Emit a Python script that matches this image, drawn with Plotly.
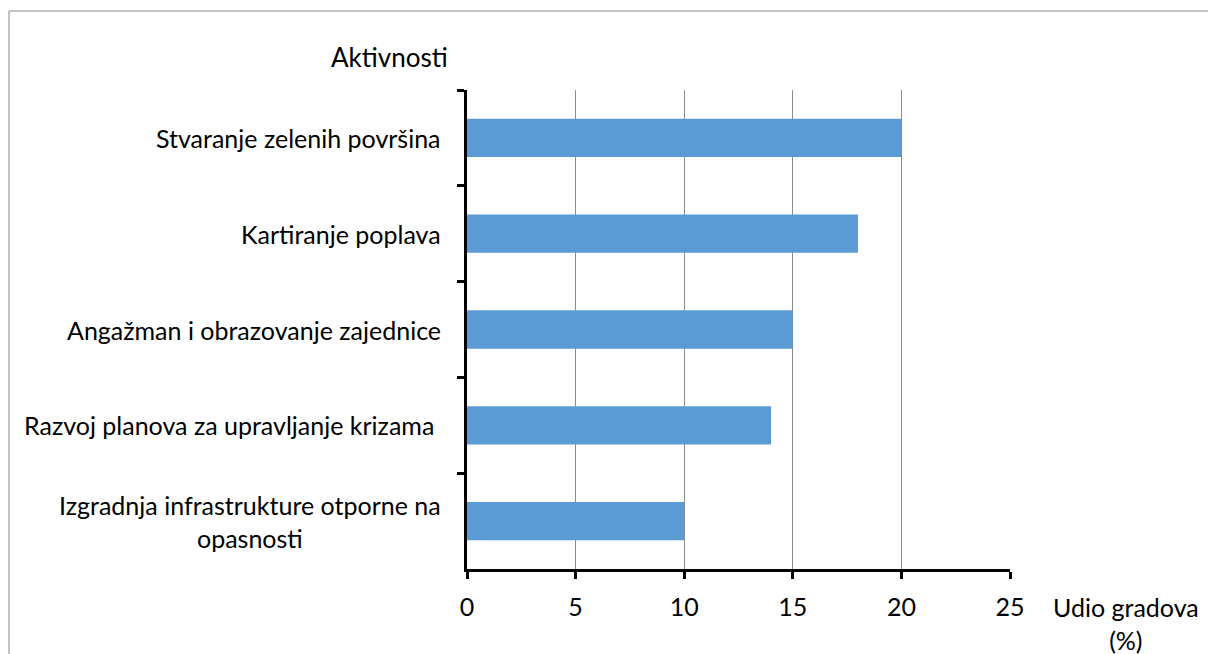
import plotly.graph_objects as go

categories = [
    "Stvaranje zelenih površina",
    "Kartiranje poplava",
    "Angažman i obrazovanje zajednice",
    "Razvoj planova za upravljanje krizama ",
    "Izgradnja infrastrukture otporne na<br>opasnosti",
]
values = [20, 18, 15, 14, 10]
x_ticks = [0, 5, 10, 15, 20, 25]

FONT = "Lato"
FS = 25
W, H = 1208, 654
L, T = 467, 90
pw, ph = 543, 479
R, B = W - L - pw, H - T - ph
PAD = 16  # initial size leaves room for the default body margin (no scrollbars)

fig = go.Figure(go.Bar(
    x=values, y=categories, orientation="h",
    marker=dict(color="#5b9bd5", line=dict(width=0)),
    hoverinfo="x+y",
))

fig.update_layout(
    width=W - PAD, height=H - PAD,
    margin=dict(l=L, r=R - PAD, t=T, b=B - PAD, autoexpand=False),
    paper_bgcolor="white", plot_bgcolor="white",
    bargap=0.6, showlegend=False,
    font=dict(family=FONT, size=FS, color="#000000"),
)
fig.update_xaxes(
    range=[0, 25], tickvals=x_ticks, ticktext=[str(v) for v in x_ticks],
    showgrid=True, gridcolor="#8c8c8c", gridwidth=1,
    showline=True, linecolor="black", linewidth=3,
    ticks="outside", ticklen=7, tickwidth=3, tickcolor="black",
    ticklabelstandoff=7, zeroline=False,
    tickfont=dict(family=FONT, size=FS, color="black"),
)
fig.update_yaxes(
    autorange="reversed", showticklabels=False,
    showline=True, linecolor="black", linewidth=3,
    ticks="outside", tickson="boundaries", ticklen=7, tickwidth=3, tickcolor="black",
    showgrid=False,
)

for c in categories:
    fig.add_annotation(
        x=0, y=c, xref="x", yref="y", text=c, showarrow=False,
        xanchor="right", yanchor="middle", align="center", xshift=-24,
        font=dict(family=FONT, size=FS, color="black"),
    )

fig.add_annotation(
    x=0, y=1, xref="x", yref="paper", text="Aktivnosti", showarrow=False,
    xanchor="right", yanchor="middle", xshift=-17, yshift=33,
    font=dict(family=FONT, size=26, color="black"),
)
fig.add_annotation(
    x=25, y=0, xref="x", yref="paper", text="Udio gradova<br>(%)", showarrow=False,
    xanchor="left", yanchor="top", align="center", xshift=41, yshift=-21,
    font=dict(family=FONT, size=FS, color="black"),
)

# outer chart border: only the top and left edges are inside the picture
bx0 = (9 - L) / pw
bx1 = (W + 20 - L) / pw
by_top = 1 + (T - 11) / ph
by_bot = -(B + 20) / ph
border = dict(color="#b0b0b0", width=1.5)
fig.add_shape(type="line", xref="paper", yref="paper",
              x0=bx0, x1=bx1, y0=by_top, y1=by_top, line=border, layer="below")
fig.add_shape(type="line", xref="paper", yref="paper",
              x0=bx0, x1=bx0, y0=by_bot, y1=by_top, line=border, layer="below")

post = (
    "document.documentElement.style.overflow='hidden';"
    "document.body.style.margin='0';document.body.style.overflow='hidden';"
    "var gd=document.getElementById('{plot_id}');"
    f"Plotly.relayout(gd,{{width:{W},height:{H},'margin.r':{R},'margin.b':{B}}});"
)

fig.write_html(
    "out.html",
    config={"displayModeBar": False},
    post_script=post,
)
